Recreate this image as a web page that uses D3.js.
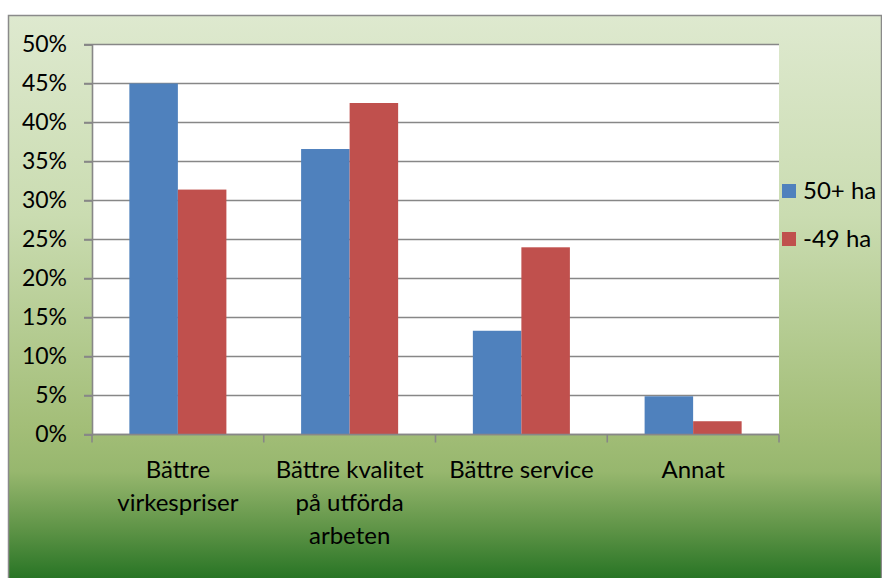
<!DOCTYPE html>
<html><head><meta charset="utf-8">
<script src="https://cdn.jsdelivr.net/npm/d3@7"></script>
<style>body{margin:0;background:#fff;}svg{display:block;}</style>
</head><body>
<script>
const categories = [["Bättre","virkespriser"],["Bättre kvalitet","på utförda","arbeten"],["Bättre service"],["Annat"]];
const seriesNames = ["50+ ha","-49 ha"];
const series50 = [45.0, 36.6, 13.3, 4.9];
const series49 = [31.4, 42.5, 24.0, 1.7];
const yTicks = [0,5,10,15,20,25,30,35,40,45,50];
const colors = ["#4f81bd","#c0504d"];

(function(){
const W=882,H=578;
const svg=d3.select("body").append("svg").attr("width",W).attr("height",H);
const defs=svg.append("defs");
const g=defs.append("linearGradient").attr("id","bg").attr("x1",0).attr("y1",0).attr("x2",0).attr("y2",1);
[[0,"#dee9cf"],[0.35,"#cadcb1"],[0.72,"#a3be78"],[0.8,"#97b76e"],[0.9,"#5f9447"],[1,"#207020"]].forEach(s=>g.append("stop").attr("offset",s[0]).attr("stop-color",s[1]));
svg.append("rect").attr("x",8.5).attr("y",15.5).attr("width",873).attr("height",570).attr("fill","url(#bg)").attr("stroke","#8a8a8a").attr("stroke-width",1.5);

const pL=92,pR=779,pT=44.5,pB=434.5;
const x=d3.scaleBand().domain(d3.range(categories.length)).range([pL,pR]).paddingInner(0).paddingOuter(0);
const x1=d3.scaleBand().domain([0,1]).range([0,x.bandwidth()]).paddingInner(0).paddingOuter(0.77);
const y=d3.scaleLinear().domain([0,50]).range([pB,pT]);

svg.append("rect").attr("x",pL).attr("y",pT).attr("width",pR-pL).attr("height",pB-pT).attr("fill","#fff");

const font="Lato, 'Open Sans', sans-serif";
svg.append("g").selectAll("line").data(yTicks).join("line")
 .attr("x1",84).attr("x2",pR).attr("y1",d=>y(d)).attr("y2",d=>y(d))
 .attr("stroke","#878787").attr("stroke-width",1.6);
const ya=svg.append("g").attr("transform",`translate(${pL},0)`)
 .call(d3.axisLeft(y).tickValues(yTicks).tickFormat(d=>d+"%").tickSize(8).tickPadding(17));
ya.select(".domain").attr("stroke","#878787").attr("stroke-width",1.6);
ya.selectAll(".tick line").attr("stroke","#878787").attr("stroke-width",1.6);
ya.selectAll("text").attr("font-family",font).attr("font-size",23).attr("fill","#000");

const data=[series50,series49];
data.forEach((s,si)=>{
  svg.append("g").selectAll("rect").data(s).join("rect")
   .attr("x",(d,i)=>x(i)+x1(si)).attr("width",x1.bandwidth())
   .attr("y",d=>y(d)).attr("height",d=>y(0)-y(d)).attr("fill",colors[si]);
});

const xa=svg.append("g").attr("transform",`translate(0,${pB})`);
xa.append("line").attr("x1",pL).attr("x2",pR).attr("stroke","#878787").attr("stroke-width",1.6);
xa.selectAll(".t").data(d3.range(categories.length+1)).join("line")
 .attr("x1",i=>pL+i*x.bandwidth()).attr("x2",i=>pL+i*x.bandwidth()).attr("y1",0).attr("y2",8)
 .attr("stroke","#878787").attr("stroke-width",1.6);
categories.forEach((lines,i)=>{
  const t=svg.append("text").attr("font-family",font).attr("font-size",24).attr("text-anchor","middle").attr("fill","#000");
  lines.forEach((l,j)=>t.append("tspan").attr("x",x(i)+x.bandwidth()/2).attr("y",478+j*33).text(l));
});

const lg=svg.append("g");
seriesNames.forEach((n,i)=>{
  lg.append("rect").attr("x",782).attr("y",184+i*48).attr("width",14).attr("height",14).attr("fill",colors[i]);
  lg.append("text").attr("x",803).attr("y",199+i*48).attr("font-family",font).attr("font-size",24).attr("fill","#000").text(n);
});
})();
</script>
</body></html>
